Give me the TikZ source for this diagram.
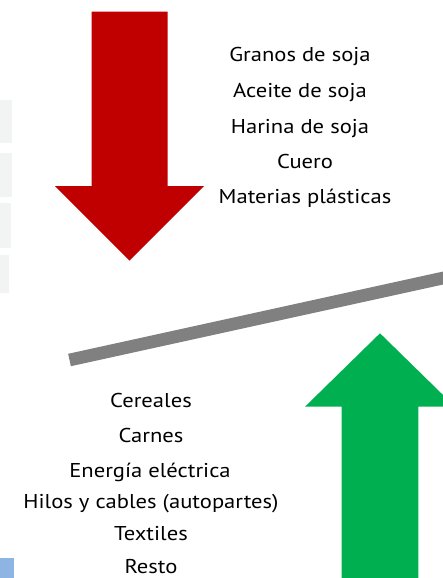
\documentclass[tikz,border=0pt]{standalone}
\usepackage{fontspec}
\setmainfont{PT Sans}[FakeStretch=1.13]
\definecolor{redarrow}{HTML}{C00000}
\definecolor{greenarrow}{HTML}{00B050}
\definecolor{graybar}{HTML}{808080}
\definecolor{bluesq}{HTML}{8DB4E2}
\definecolor{faint}{HTML}{F2F4F4}
\tikzset{
  lbl/.style={inner sep=0pt, anchor=base, font=\fontsize{20}{20}\selectfont, text=black},
}
\begin{document}
\begin{tikzpicture}[x=1pt,y=-1pt]
\useasboundingbox (0,0) rectangle (443,578);
\clip (0,0) rectangle (443,578);
% faint watermark on the left edge
\fill[faint] (0,100) rectangle (12,143);
\fill[faint] (0,153) rectangle (12,197);
\fill[faint] (0,203) rectangle (11,248);
\fill[faint] (0,255) rectangle (9,293);
% red arrow (down)
\fill[redarrow] (91.7,11.7) -- (167.7,11.7) -- (167.7,186) -- (204,186) -- (129.5,260.7) -- (55,186) -- (91.7,186) -- cycle;
% green arrow (up)
\fill[greenarrow] (341.7,578) -- (341.7,406.7) -- (305,406.7) -- (380,333.3) -- (455,406.7) -- (418.3,406.7) -- (418.3,578) -- cycle;
% gray bar
\draw[graybar, line width=12.7pt] (69.5,360) -- (450,276.5);
% light blue square
\fill[bluesq] (0,558) rectangle (14,578);
% top texts
\node[lbl] (t1) at (300,62) {Granos de soja};
\node[lbl] (t2) at (300,97) {Aceite de soja};
\node[lbl] (t3) at (300,133) {Harina de soja};
\node[lbl] (t4) at (305,168) {Cuero};
\node[lbl] (t5) at (305,203) {Materias plásticas};
% bottom texts
\node[lbl] (b1) at (151,407) {Cereales};
\node[lbl] (b2) at (151,442) {Carnes};
\node[lbl] (b3) at (150,477) {Energía eléctrica};
\node[lbl] (b4) at (151,508) {Hilos y cables (autopartes)};
\node[lbl] (b5) at (151,540) {Textiles};
\node[lbl] (b6) at (151,573) {Resto};
\end{tikzpicture}
\end{document}
